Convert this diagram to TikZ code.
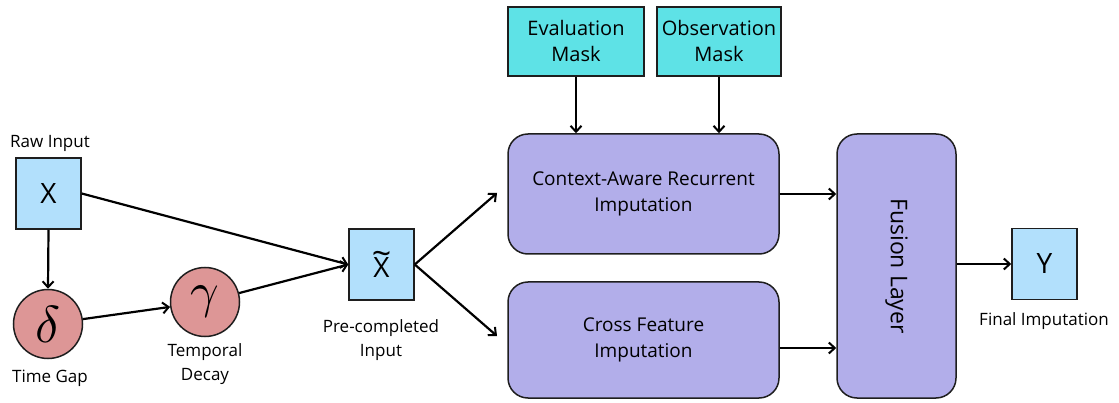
\documentclass[tikz,border=0pt]{standalone}
\usepackage{fontspec}
\setmainfont{Open Sans}
\usepackage{graphicx}
\usetikzlibrary{arrows.meta}
\definecolor{lblue}{RGB}{178,224,252}
\definecolor{cyanm}{RGB}{94,226,230}
\definecolor{purp}{RGB}{178,174,234}
\definecolor{pinkc}{RGB}{221,150,150}
\definecolor{edge}{RGB}{30,30,30}
\begin{document}
\begin{tikzpicture}[x=1pt,y=-1pt,
  sqbox/.style={draw=edge,line width=1.5pt,fill=lblue,minimum width=65pt,minimum height=71pt,inner sep=0pt,font=\fontsize{28}{30}\selectfont},
  maskbox/.style={draw=edge,line width=1.5pt,fill=cyanm,minimum width=#1,minimum height=69pt,inner sep=0pt,align=center,font=\fontsize{20}{26}\selectfont},
  procbox/.style={draw=edge,line width=1.5pt,fill=purp,rounded corners=20pt,inner sep=0pt,align=center,font=\fontsize{19}{26}\selectfont},
  circ/.style={draw=edge,line width=1.5pt,fill=pinkc,circle,minimum size=69pt,inner sep=0pt},
  lbl/.style={align=center,font=\fontsize{17}{24}\selectfont,inner sep=0pt},
  arr/.style={line width=2.2pt,-{Straight Barb[length=6pt,width=11pt,line width=2pt]}},
  ln/.style={line width=2.2pt}]
\useasboundingbox (0,0) rectangle (1119,403);
\node[sqbox] (x) at (48.5,193.5) {X};
\node[lbl] (rawl) at (50,143) {Raw Input};
\node[circ] (d) at (48,324) {\scalebox{5.2}{$\delta$}};
\node[circ] (g) at (205,302) {\raisebox{-6pt}{\scalebox{5}{$\gamma$}}};
\node[lbl] (tgl) at (50,378) {Time Gap};
\node[lbl] (tdl) at (205,364) {Temporal\\Decay};
\node[sqbox,align=center] (xt) at (381.5,264.5) {\raisebox{-4pt}{\fontsize{34}{30}\selectfont\char"007E}\\[-14pt]X};
\node[lbl] (pcl) at (381,340) {Pre-completed\\Input};
\node[maskbox=136pt] (em) at (576,41.5) {Evaluation\\Mask};
\node[maskbox=124pt] (om) at (719,41.5) {Observation\\Mask};
\node[procbox,minimum width=271pt,minimum height=120pt] (cari) at (643.5,194) {Context-Aware Recurrent\\Imputation};
\node[procbox,minimum width=271pt,minimum height=116pt] (cfi) at (643.5,340) {Cross Feature\\Imputation};
\node[procbox,minimum width=119pt,minimum height=264pt] (fus) at (896.5,266) {};
\node[rotate=-90,font=\fontsize{23}{24}\selectfont,inner sep=0pt] (fusl) at (fus.center) {Fusion Layer};
\node[sqbox] (y) at (1044.5,264) {Y};
\node[lbl] (fil) at (1044,321) {Final Imputation};
\coordinate (c1) at (497,193);
\coordinate (c2) at (497,336);
\draw[arr] (x.south) -- (d.north);
\draw[arr] (d) -- (g);
\draw[arr] (x.east) -- (xt.west);
\draw[arr] (g) -- (xt.west);
\draw[arr] (xt.east) -- (c1);
\draw[arr] (xt.east) -- (c2);
\draw[arr] (em.south) -- (em.south |- cari.north);
\draw[arr] (om.south) -- (om.south |- cari.north);
\draw[arr] (cari.east) -- (cari.east -| fus.west);
\draw[arr] (cari.east |- 0,348) -- (fus.west |- 0,348);
\draw[arr] (fus.east |- y.west) -- (y.west);
\end{tikzpicture}
\end{document}
